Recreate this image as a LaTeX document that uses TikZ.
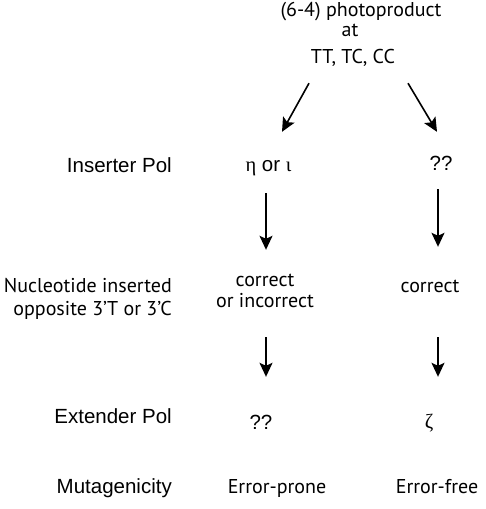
\documentclass[tikz,border=0pt]{standalone}
\usepackage{fontspec}
\setmainfont{Liberation Sans}
\newfontfamily\myrfont{PT Sans}
\newfontfamily\grkfont{Liberation Serif}
\usetikzlibrary{arrows.meta}

\begin{document}
\begin{tikzpicture}[x=1pt,y=-1pt,
    txt/.style={inner sep=0pt,text height=14pt,text depth=4pt,anchor=base},
    arial/.style={txt,font=\fontsize{20.5}{24}\selectfont},
    myr/.style={txt,font=\myrfont\fontsize{20}{24}\selectfont},
    lab/.style={arial,anchor=base east},
    arr/.style={line width=1.6pt,-{Stealth[length=14pt,width=13pt,inset=3pt]}}]
                \useasboundingbox (0,0) rectangle (485,509);

                % top
                \node[myr,text depth=3pt] (title1) at (361,16) {(6-4) photoproduct};
                \node[myr,text height=12pt] (title2) at (350,36) {at};
                \node[myr] (title3) at (353,63) {TT, TC, CC};

                % row labels
                \node[lab] (lab1) at (172,172) {Inserter Pol};
                \node[myr,anchor=base east] (lab2a) at (172,292) {Nucleotide inserted};
                \node[myr,anchor=base east] (lab2b) at (172,315) {opposite 3’T or 3’C};
                \node[lab] (lab3) at (172,423) {Extender Pol};
                \node[lab] (lab4) at (172,493) {Mutagenicity};

                % left branch
                \node[arial] (ins1) at (268.5,171) {{\grkfont η} or {\grkfont ι}};
                \node[myr] (nuc1a) at (265,286) {correct};
                \node[myr] (nuc1b) at (265,307) {or incorrect};
                \node[arial] (ext1) at (261,429) {??};
                \node[myr] (mut1) at (277,493) {Error-prone};

                % right branch
                \node[arial] (ins2) at (441,170) {??};
                \node[myr] (nuc2) at (430,292) {correct};
                \node[arial] (ext2) at (429,428) {\grkfont ζ};
                \node[myr] (mut2) at (437,493) {Error-free};

                \coordinate (colL) at (266,0);
                \coordinate (colR) at (438,0);

                \draw[arr] ([xshift=-44pt,yshift=-16pt]title3.south) -- ([xshift=13.5pt,yshift=25pt]ins1.north);
                \draw[arr] ([xshift=55pt,yshift=-16pt]title3.south) -- ([xshift=-4pt,yshift=24pt]ins2.north);

                \draw[arr,shorten <=18pt,shorten >=22pt] (colL |- ins1.south) -- (colL |- nuc1a.north);
                \draw[arr,shorten <=15pt,shorten >=31pt] (colR |- ins2.south) -- (colR |- nuc2.north);
                \draw[arr,shorten <=26pt,shorten >=38pt] (colL |- nuc1b.south) -- (colL |- ext1.north);
                \draw[arr,shorten <=41pt,shorten >=37pt] (colR |- nuc2.south) -- (colR |- ext2.north);
\end{tikzpicture}
\end{document}
